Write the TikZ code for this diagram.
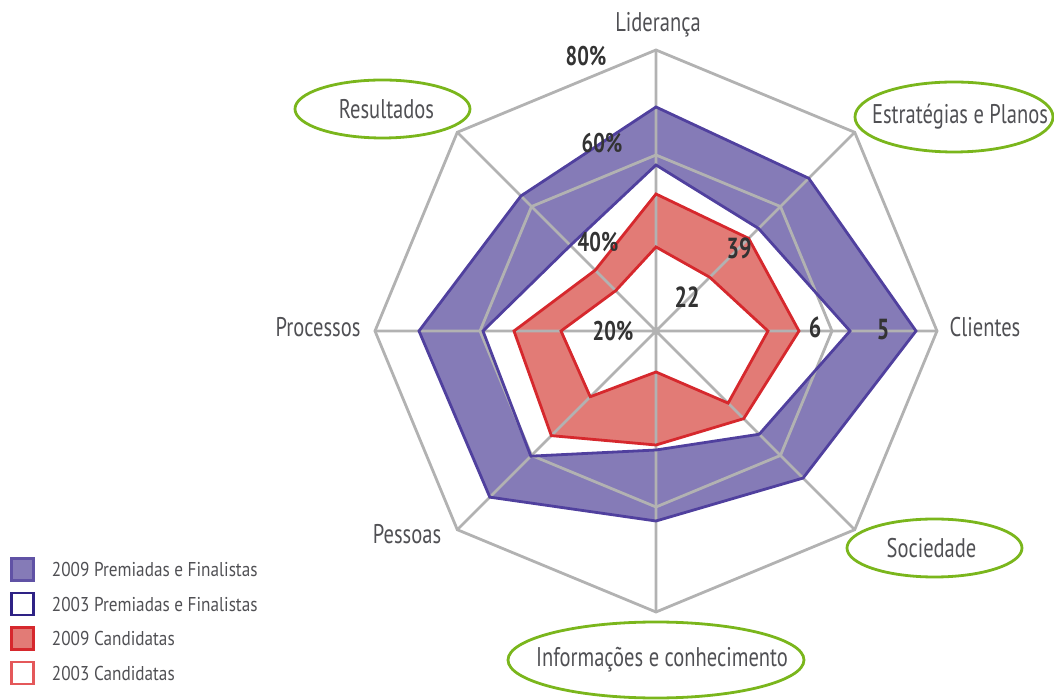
\documentclass[tikz,border=0pt]{standalone}
\usepackage{fontspec}
\setmainfont{PT Sans}[FakeStretch=0.76]
\newfontfamily\legfont{PT Sans}[FakeStretch=0.86]
\usepackage{xcolor}
\definecolor{rdpurple}{RGB}{133,123,183}
\definecolor{rdpurpleline}{RGB}{80,64,158}
\definecolor{rdnavy}{RGB}{46,34,133}
\definecolor{rdred}{RGB}{226,123,118}
\definecolor{rdredline}{RGB}{214,40,45}
\definecolor{rdredlight}{RGB}{228,88,90}
\definecolor{rdgray}{RGB}{178,178,178}
\definecolor{rdgreen}{RGB}{122,182,28}
\definecolor{rdtext}{RGB}{80,80,84}
\definecolor{rddark}{RGB}{51,51,51}
\usetikzlibrary{positioning,shapes.geometric}
\tikzset{
  gridline/.style={draw=rdgray, line width=2.8pt, line join=miter},
  serie/.style={draw=#1, line width=2.8pt, line join=miter},
  axlabel/.style={text=rdtext, font=\fontsize{27}{30}\selectfont, inner sep=0pt},
  focus/.style={draw=rdgreen, line width=2.8pt, ellipse, inner sep=0pt},
  pctlabel/.style={text=rddark, font=\fontsize{27}{30}\selectfont\bfseries, inner sep=0pt},
  vallabel/.style={text=rddark, font=\fontsize{29}{32}\selectfont\bfseries, inner sep=0pt},
  legbox/.style={draw=#1, line width=2.5pt, minimum size=22pt, inner sep=0pt},
  legtext/.style={text=rdtext, font=\legfont\fontsize{20}{22}\selectfont, inner sep=0pt, anchor=west},
}
% series (radius in px, order: Lideranca, Estrategias, Clientes, Sociedade,
% Informacoes, Pessoas, Processos, Resultados)
\newcommand{\premnove}{(90:224) -- (45:216) -- (0:260) -- (-45:208) -- (-90:190) -- (-135:235) -- (180:237) -- (135:191) -- cycle}
\newcommand{\premtres}{(90:166) -- (45:145) -- (0:194) -- (-45:146) -- (-90:119) -- (-135:177) -- (180:173) -- (135:121) -- cycle}
\newcommand{\candnove}{(90:137) -- (45:131) -- (0:143) -- (-45:124) -- (-90:114) -- (-135:148) -- (180:142) -- (135:86) -- cycle}
\newcommand{\candtres}{(90:84) -- (45:76) -- (0:112) -- (-45:102) -- (-90:41) -- (-135:93) -- (180:95) -- (135:57) -- cycle}

\begin{document}
\begin{tikzpicture}[x=1pt, y=1pt]
\useasboundingbox (-656,-369) rectangle (398,331);

% --- fills ---
\fill[rdpurple] \premnove;
\fill[white] \premtres;
\fill[rdred] \candnove;
\fill[white] \candtres;

% --- grid ---
\draw[gridline] (90:281) -- (45:281) -- (0:281) -- (-45:281) -- (-90:281) -- (-135:281) -- (180:281) -- (135:281) -- cycle;
\draw[gridline] (90:176) -- (45:176) -- (0:176) -- (-45:176) -- (-90:176) -- (-135:176) -- (180:176) -- (135:176) -- cycle;
\draw[gridline] (90:281) -- (-90:281) (0:281) -- (180:281)
                (45:281) -- (-135:281) (135:281) -- (-45:281);

% --- outlines ---
\draw[serie=rdpurpleline] \premnove;
\draw[serie=rdpurpleline] \premtres;
\draw[serie=rdredline] \candnove;
\draw[serie=rdredline] \candtres;

% --- scale and values ---
\node[pctlabel] (p80) at (-70,275) {80\%};
\node[pctlabel] (p60) at (-54,188) {60\%};
\node[pctlabel] (p40) at (-58,89) {40\%};
\node[pctlabel] (p20) at (-43,0) {20\%};
\node[vallabel] (v22) at (31,34) {22};
\node[vallabel] (v39) at (83,83) {39};
\node[vallabel] (v6) at (159,4) {6};
\node[vallabel] (v5) at (227,1) {5};

% --- axis labels ---
\node[axlabel] (lid) at (2,306) {Liderança};
\node[axlabel] (cli) at (329,4) {Clientes};
\node[axlabel] (pro) at (-338,4) {Processos};
\node[axlabel] (pes) at (-249,-203) {Pessoas};
\node[focus, minimum width=175pt, minimum height=58pt,
      label={[axlabel, xshift=4pt]center:Resultados}] (res) at (-273.5,222) {};
\node[focus, minimum width=198pt, minimum height=70pt,
      label={[axlabel, xshift=6pt]center:Estratégias e Planos}] (est) at (298,214) {};
\node[focus, minimum width=175pt, minimum height=58pt,
      label={[axlabel, xshift=-3pt]center:Sociedade}] (soc) at (278.5,-217) {};
\node[focus, minimum width=296pt, minimum height=76pt,
      label={[axlabel, xshift=6pt]center:Informações e conhecimento}] (inf) at (0,-329) {};

% --- legend ---
\node[legbox=rdpurpleline!70!rdpurple, fill=rdpurple] (l1) at (-633.5,-238.5) {};
\node[legbox=rdnavy, fill=white, below=10pt of l1] (l2) {};
\node[legbox=rdredline, fill=rdred, below=10pt of l2] (l3) {};
\node[legbox=rdredlight, fill=white, below=10pt of l3] (l4) {};
\node[legtext, right=17pt of l1] (t1) {2009 Premiadas e Finalistas};
\node[legtext, right=17pt of l2] (t2) {2003 Premiadas e Finalistas};
\node[legtext, right=17pt of l3] (t3) {2009 Candidatas};
\node[legtext, right=17pt of l4] (t4) {2003 Candidatas};

\end{tikzpicture}
\end{document}
